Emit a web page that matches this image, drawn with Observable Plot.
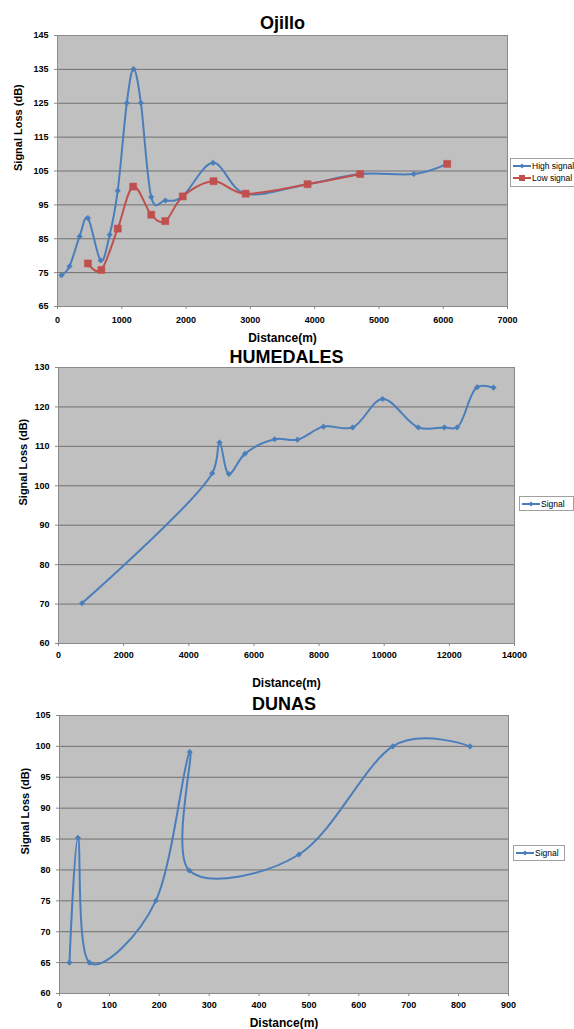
<!DOCTYPE html>
<html><head><meta charset="utf-8">
<script src="https://cdn.jsdelivr.net/npm/d3@7"></script>
<script src="https://cdn.jsdelivr.net/npm/@observablehq/plot@0.6"></script>
<style>
body{margin:0;background:#fff;}
#wrap{position:relative;width:574px;height:1029px;overflow:hidden;font-family:"Liberation Sans",Arial,sans-serif;}
.chart{position:absolute;left:0;}
.legend{position:absolute;background:#fff;border:1px solid #a0a0a0;font-size:8.5px;color:#000;box-sizing:border-box;padding:1px 2px;}
.legend div{display:flex;align-items:center;height:12px;white-space:nowrap;}
.legend svg{margin-right:1px;}
</style></head>
<body><div id="wrap"></div>
<script>
// ---- Data ----
const ojilloHighX = [62,187,344,473,672,812,937,1078,1183,1297,1458,1677,1948,2420,2927,3890,4708,5542,6062];
const ojilloHighY = [74.2,76.9,85.7,91.1,78.6,86.2,99.2,125.1,135.1,125.1,97.3,96.3,97.5,107.4,98.3,101.1,104.1,104.1,107.1];
const ojilloLowX = [473,682,937,1177,1458,1677,1948,2427,2927,3890,4708,5542,6062];
const ojilloLowY = [77.7,75.8,88.0,100.4,92.1,90.2,97.5,102.0,98.3,101.1,104.1,null,107.1];
const ojilloXTicks = [0,1000,2000,3000,4000,5000,6000,7000];
const ojilloYTicks = [65,75,85,95,105,115,125,135,145];

const humX = [720,4720,4945,5232,5723,6637,7335,8135,9030,9950,11046,11846,12237,12852,13354];
const humY = [70.2,103.2,111.0,103.0,108.1,111.8,111.7,115.0,114.8,122.0,114.8,114.8,114.8,125.0,124.9];
const humXTicks = [0,2000,4000,6000,8000,10000,12000,14000];
const humYTicks = [60,70,80,90,100,110,120,130];

const dunX = [20,37,60,193,261,260,480,668,823];
const dunY = [65,85.2,65,75,99.1,79.9,82.5,100,100];
const dunXTicks = [0,100,200,300,400,500,600,700,800,900];
const dunYTicks = [60,65,70,75,80,85,90,95,100,105];

const BLUE = "#4a7ebb", RED = "#c0504d";
const FONT = "Liberation Sans, Arial, sans-serif";

function toRows(xs, ys){ return xs.map((x,i)=>({x, y: ys[i]})); }

function makeChart(o){
  const marks = [
    Plot.frame({fill:"#c0c0c0", stroke:null}),
    Plot.ruleY(o.yTicks.slice(1,-1), {stroke:"#707070", strokeWidth:1}),
    Plot.frame({stroke:"#8a8a8a", strokeWidth:1}),
  ];
  const curveOpts = o.curve === "catmull-rom" ? {curve:"catmull-rom"} : {curve:"cardinal", tension:0};
  for (const s of o.series){
    const rows = toRows(s.x, s.y);
    marks.push(Plot.line(rows, {x:"x", y:"y", stroke:s.color, strokeWidth:2, ...curveOpts, defined: d => d.y != null}));
  }
  for (const s of o.series){
    const rows = toRows(s.x, s.y).filter(d => d.y != null);
    marks.push(Plot.dot(rows, {x:"x", y:"y", symbol:s.symbol, r:s.r, fill:s.color, stroke:s.color, strokeWidth:0.5}));
  }
  marks.push(
    Plot.axisX({ticks:o.xTicks, tickFormat:d=>String(d), tickSize:3, tickPadding:o.xPad, label:null, fontSize:9, fontWeight:"bold", stroke:"#8a8a8a"}),
    Plot.axisY({ticks:o.yTicks, tickFormat:d=>String(d), tickSize:3, tickPadding:6, label:null, fontSize:9, fontWeight:"bold", stroke:"#8a8a8a"}),
    Plot.text([o.title], {frameAnchor:"top", dy:o.titleDy, text:d=>d, fontSize:18, fontWeight:"bold", lineAnchor:"middle"}),
    Plot.text(["Distance(m)"], {frameAnchor:"bottom", dy:o.xlabDy, text:d=>d, fontSize:12, fontWeight:"bold", lineAnchor:"middle"}),
    Plot.text(["Signal Loss (dB)"], {frameAnchor:"left", dx:o.ylabDx, text:d=>d, fontSize:11, fontWeight:"bold", rotate:-90, lineAnchor:"middle"})
  );
  const p = Plot.plot({
    width:574, height:o.height,
    marginTop:o.mt, marginBottom:o.mb, marginLeft:o.ml, marginRight:o.mr,
    x:{domain:o.xDomain}, y:{domain:o.yDomain},
    style:{fontFamily:FONT, color:"#000", background:"transparent"},
    marks
  });
  p.classList.add("chart");
  p.style.top = o.top + "px";
  p.style.position = "absolute";
  return p;
}

function legendSwatch(color, symbol){
  const m = symbol === "square"
    ? `<rect x="6" y="2" width="6" height="6" fill="${color}"/>`
    : `<path d="M9 2.5 L11.5 5 L9 7.5 L6.5 5 Z" fill="${color}"/>`;
  return `<svg width="18" height="10"><line x1="0" y1="5" x2="18" y2="5" stroke="${color}" stroke-width="2"/>${m}</svg>`;
}
function addLegend(wrap, left, top, w, h, items){
  const d = document.createElement("div");
  d.className = "legend";
  d.style.left = left+"px"; d.style.top = top+"px"; d.style.width = w+"px"; d.style.height = h+"px";
  d.innerHTML = items.map(it => `<div>${legendSwatch(it.color, it.symbol)}<span>${it.label}</span></div>`).join("");
  wrap.appendChild(d);
}

const wrap = document.getElementById("wrap");
wrap.appendChild(makeChart({
  top:0, height:345, mt:35, mb:39, ml:57, mr:67,
  xDomain:[0,7000], yDomain:[65,145], xTicks:ojilloXTicks, yTicks:ojilloYTicks, xPad:7,
  title:"Ojillo", titleDy:-12, xlabDy:32, ylabDx:-39,
  series:[
    {x:ojilloHighX, y:ojilloHighY, color:BLUE, symbol:"diamond2", r:2.5},
    {x:ojilloLowX, y:ojilloLowY, color:RED, symbol:"square", r:4}
  ]
}));
wrap.appendChild(makeChart({
  top:345, height:345, mt:22, mb:47, ml:58, mr:60, curve:"catmull-rom",
  xDomain:[0,14000], yDomain:[60,130], xTicks:humXTicks, yTicks:humYTicks, xPad:5,
  title:"HUMEDALES", titleDy:-10, xlabDy:40, ylabDx:-35,
  series:[{x:humX, y:humY, color:BLUE, symbol:"diamond2", r:2.5}]
}));
wrap.appendChild(makeChart({
  top:690, height:339, mt:25, mb:36, ml:59, mr:66,
  xDomain:[0,900], yDomain:[60,105], xTicks:dunXTicks, yTicks:dunYTicks, xPad:5,
  title:"DUNAS", titleDy:-11, xlabDy:30, ylabDx:-34,
  series:[{x:dunX, y:dunY, color:BLUE, symbol:"diamond2", r:2.5}]
}));

addLegend(wrap, 510, 158, 68, 29, [
  {label:"High signal", color:BLUE, symbol:"diamond"},
  {label:"Low signal", color:RED, symbol:"square"}
]);
addLegend(wrap, 519, 496, 55, 15, [{label:"Signal", color:BLUE, symbol:"diamond"}]);
addLegend(wrap, 513, 845, 52, 16, [{label:"Signal", color:BLUE, symbol:"diamond"}]);
</script>
</body></html>
